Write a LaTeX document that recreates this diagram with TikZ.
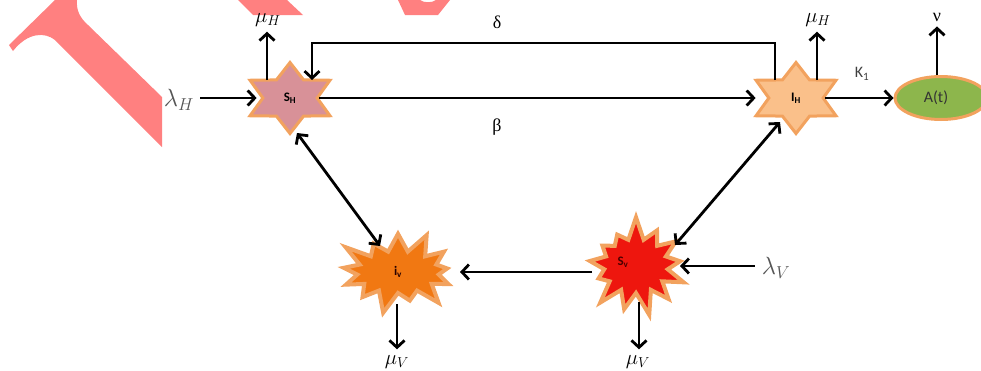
\documentclass[tikz,border=0pt]{standalone}
\usepackage{fontspec}
\setmainfont{Carlito}
\newfontfamily\grkfont{Liberation Serif}
\usetikzlibrary{arrows.meta,positioning,calc,shapes.geometric,shapes.symbols}
\definecolor{wmark}{RGB}{255,128,128}
\definecolor{rimorange}{RGB}{242,162,94}
\definecolor{shfill}{RGB}{216,145,152}
\definecolor{ihfill}{RGB}{250,192,138}
\definecolor{ivfill}{RGB}{241,120,18}
\definecolor{svfill}{RGB}{238,22,14}
\definecolor{atfill}{RGB}{141,182,76}
\definecolor{lamgray}{RGB}{85,85,85}
\tikzset{
  flow/.style={-{Straight Barb[length=7pt,width=15pt]}, line width=2.8pt},
  dflow/.style={{Straight Barb[length=7pt,width=15pt]}-{Straight Barb[length=7pt,width=15pt]}, line width=2.8pt},
  hstar/.style={star, star points=6, star point ratio=1.7, minimum size=71pt,
    inner sep=0pt, xscale=1.3, draw=rimorange, line width=3pt},
  burst/.style={starburst, starburst points=13, starburst point height=24pt,
    inner sep=0pt, draw=rimorange, line width=4pt},
  starlbl/.style={font=\bfseries\fontsize{13}{15}\selectfont},
  mathlbl/.style={font=\fontsize{20}{24}\selectfont, inner sep=1pt},
  lamlbl/.style={font=\fontsize{24}{28}\selectfont, inner sep=1pt, text=lamgray},
  ratelbl/.style={font=\grkfont\fontsize{18}{20}\selectfont, inner sep=1pt},
}

\begin{document}
\begin{tikzpicture}[x=1pt, y=-1pt]
  \useasboundingbox (0,0) rectangle (981,370);

  % watermark pieces
  \fill[wmark] (9,45) -- (55,0) -- (77,0) .. controls (76,10) and (80,18) .. (88,25)
    -- (162,97) -- (162,147) -- (55,40) .. controls (45,32) and (28,32) .. (13,51) -- cycle;
  \fill[wmark] (238,0) -- (287,0) -- (303,15) -- (253,15) -- cycle;
  \fill[wmark] (398,0) -- (420,0) .. controls (424,3) and (432,3) .. (436,0)
    -- (450,0) -- (438,15) -- (405,15) -- cycle;

  % compartments
  \node[hstar, fill=shfill] (SH) at (290,98) {};
  \node[hstar, fill=ihfill] (IH) at (796,98) {};
  \node[ellipse, draw=rimorange, line width=3pt, fill=atfill, minimum width=92pt,
    minimum height=43pt] (At) at (941,98) {};
  \node[burst, fill=ivfill, minimum width=130pt, minimum height=90pt] (iv) at (398,272) {};
  \node[burst, fill=svfill, minimum width=112pt, minimum height=102pt,
    random starburst=7] (Sv) at (636,266) {};

  \node[starlbl] (SHt) at (SH) {S\textsubscript{H}};
  \node[starlbl] (IHt) at (IH) {I\textsubscript{H}};
  \node[starlbl, text=black!85!red] (ivt) at (iv) {i\textsubscript{v}};
  \node[starlbl, text=black!70!red] (Svt) at ([shift={(-13,-4)}]Sv.center) {S\textsubscript{v}};
  \node[font=\fontsize{16}{18}\selectfont, text=black!80] (Att) at ([xshift=-5pt]At.center) {A(t)};

  % rates
  \node[lamlbl] (lamH) at (179,100) {$\lambda_H$};
  \node[mathlbl] (muH1) at (268,20) {$\mu_H$};
  \node[mathlbl] (muH2) at (818,20) {$\mu_H$};
  \node[ratelbl] (delta) at (497,22) {δ};
  \node[ratelbl] (beta) at (497,127) {β};
  \node[font=\fontsize{16}{18}\selectfont, text=black!75] (K1) at (862,74) {K\textsubscript{1}};
  \node[ratelbl] (nu) at (937,17) {ν};
  \node[lamlbl] (lamV) at (776,268) {$\lambda_V$};
  \node[mathlbl] (muV1) at (397,362) {$\mu_V$};
  \node[mathlbl] (muV2) at (638,362) {$\mu_V$};

  % flows
  \draw[flow, shorten <=5pt, shorten >=4pt] (lamH.east |- SH.west) -- (SH.west);
  \draw[flow, shorten >=4pt] ($(SH.center)+(-23,-18)$) coordinate (a) -- (a |- muH1.south);
  \draw[flow] ($(IH.center)+(-21,-18)$) |- ($(SH.center)+(22,-55)$) -- ($(SH.center)+(22,-18)$);
  \draw[flow, shorten >=11pt] (SH.east) -- (IH.west);
  \draw[flow, shorten >=4pt] ($(IH.center)+(21,-18)$) coordinate (b) -- (b |- muH2.south);
  \draw[flow] (IH.east) -- (At.west);
  \draw[flow, shorten >=4pt] (nu |- At.north) -- (nu.south);
  \draw[dflow] ($(SH.center)+(7,35)$) -- ($(iv.center)+(-18,-26)$);
  \draw[dflow] ($(IH.center)+(-16,24)$) -- ($(Sv.center)+(39,-21)$);
  \draw[flow] ($(Sv.center)+(-44,6)$) -- ($(iv.center)+(62,0)$);
  \draw[flow, shorten <=6pt] (lamV.west |- Sv.center) -- ($(Sv.center)+(44,0)$);
  \draw[flow, shorten >=5pt] ($(iv.center)+(-1,32)$) coordinate (c) -- (c |- muV1.north);
  \draw[flow, shorten >=5pt] ($(Sv.center)+(3,36)$) coordinate (d) -- (d |- muV2.north);
\end{tikzpicture}
\end{document}
